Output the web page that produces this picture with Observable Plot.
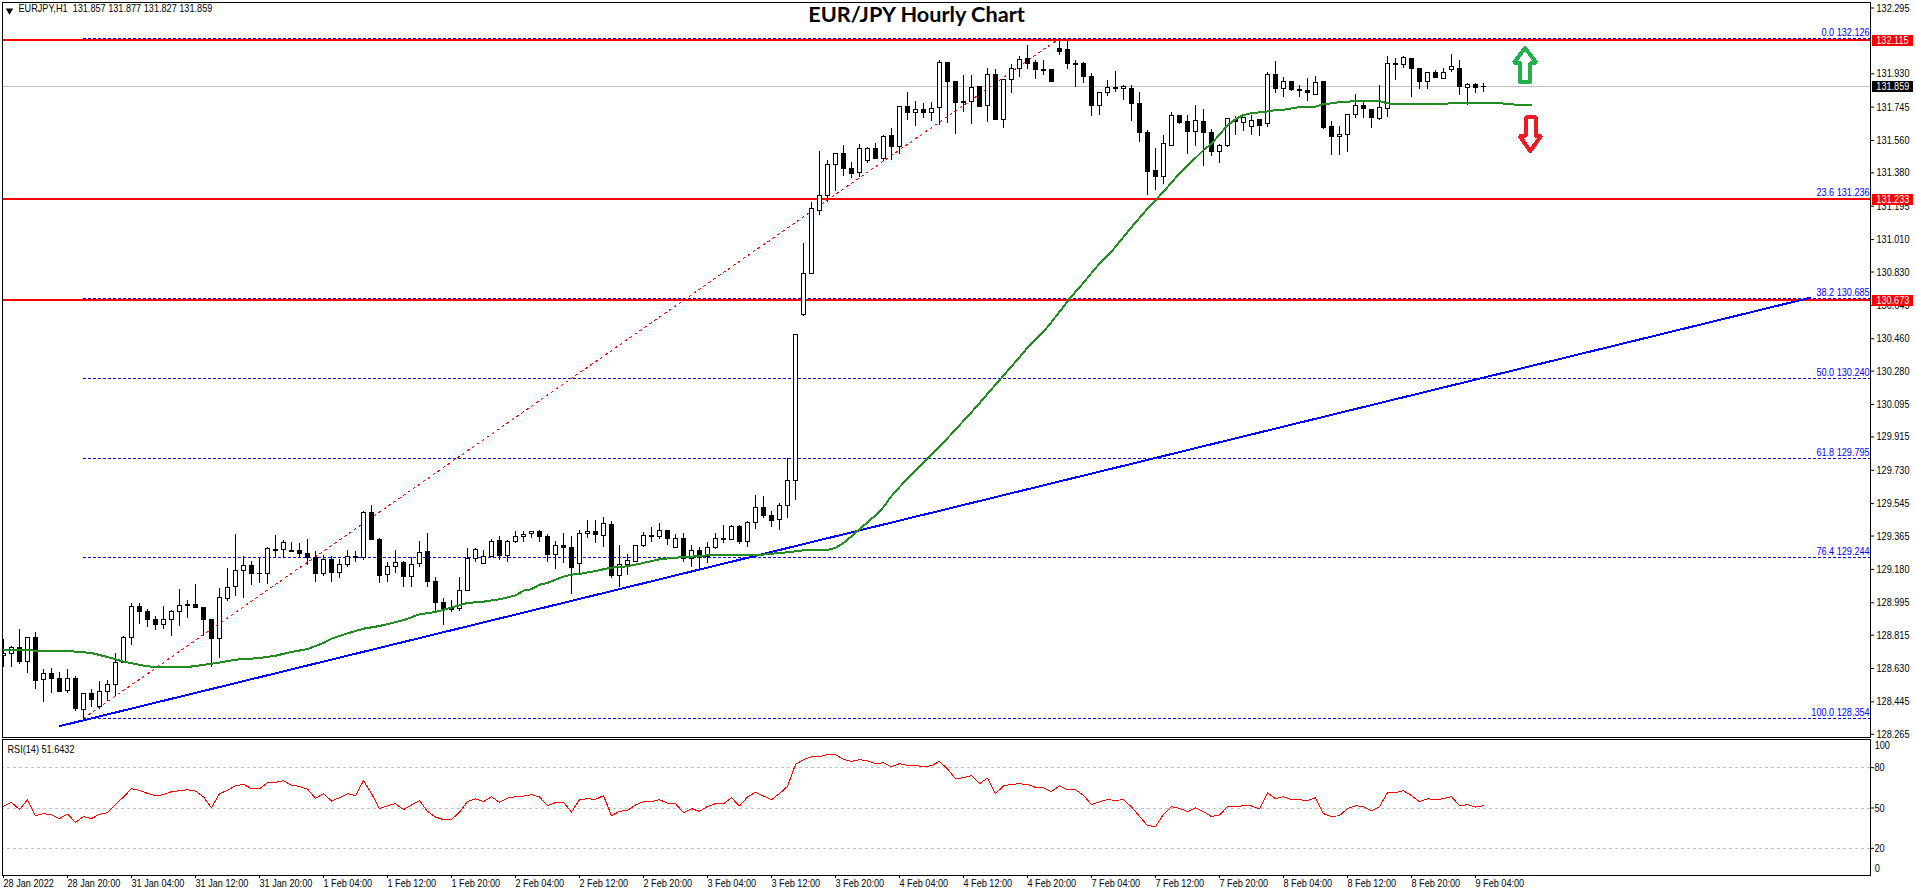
<!DOCTYPE html>
<html><head><meta charset="utf-8">
<script src="https://cdn.jsdelivr.net/npm/d3@7"></script>
<script src="https://cdn.jsdelivr.net/npm/@observablehq/plot@0.6"></script>
<style>html,body{margin:0;padding:0;background:#fff;overflow:hidden}svg{display:block}</style>
</head><body><div id="chart"></div>
<script>
const opens=[128.701,128.712,128.746,128.666,128.801,128.568,128.601,128.574,128.505,128.574,
128.402,128.490,128.418,128.502,128.540,128.663,128.801,128.973,128.946,128.901,
128.872,128.901,128.946,128.984,128.984,128.968,128.901,128.796,129.018,129.084,
129.173,129.201,129.157,129.157,129.290,129.290,129.284,129.284,129.267,129.245,
129.157,129.234,129.162,129.206,129.251,129.245,129.495,129.345,129.151,129.195,
129.217,129.138,129.212,129.279,129.112,128.994,128.960,128.960,129.062,129.240,
129.212,129.249,129.340,129.255,129.334,129.362,129.378,129.389,129.362,129.260,
129.312,129.301,129.212,129.378,129.389,129.367,129.428,129.145,129.205,129.223,
129.312,129.367,129.362,129.395,129.301,129.351,129.240,129.284,129.247,129.301,
129.351,129.343,129.417,129.334,129.440,129.523,129.478,129.456,129.534,129.673,
130.594,130.820,131.171,131.254,131.426,131.487,131.404,131.377,131.444,131.510,
131.458,131.582,131.521,131.743,131.710,131.727,131.710,131.738,131.988,131.882,
131.771,131.771,131.854,131.754,131.926,131.671,131.893,131.954,132.010,131.988,
131.949,131.949,132.065,132.060,131.984,131.982,131.910,131.754,131.821,131.849,
131.843,131.843,131.760,131.599,131.388,131.355,131.532,131.693,131.660,131.605,
131.660,131.599,131.494,131.532,131.671,131.655,131.632,131.671,131.649,131.921,
131.843,131.882,131.838,131.834,131.815,131.882,131.632,131.577,131.593,131.699,
131.749,131.727,131.677,131.732,131.982,131.976,132.010,131.954,131.882,131.932,
131.899,131.949,131.954,131.849,131.865,131.857];
const highs=[128.792,128.753,128.848,128.801,128.829,128.626,128.631,128.609,128.626,128.585,
128.490,128.513,128.557,128.563,128.712,128.807,128.990,128.990,128.957,128.918,
128.975,128.951,129.068,129.008,129.095,128.968,128.901,129.073,129.186,129.375,
129.251,129.223,129.245,129.299,129.367,129.340,129.329,129.323,129.345,129.279,
129.256,129.251,129.234,129.284,129.279,129.501,129.534,129.349,129.217,129.284,
129.223,129.245,129.334,129.378,129.134,129.018,129.007,129.134,129.295,129.295,
129.284,129.345,129.362,129.338,129.391,129.389,129.389,129.395,129.373,129.334,
129.378,129.362,129.395,129.452,129.452,129.467,129.445,129.312,129.262,129.312,
129.384,129.412,129.434,129.395,129.373,129.378,129.312,129.301,129.329,129.378,
129.423,129.423,129.423,129.445,129.589,129.584,129.501,129.545,129.795,130.485,
130.988,131.217,131.499,131.450,131.487,131.534,131.439,131.539,131.521,131.545,
131.588,131.627,131.743,131.827,131.777,131.766,131.771,132.004,131.993,131.882,
131.921,131.921,131.854,131.960,131.954,131.899,131.982,132.026,132.087,132.004,
132.004,131.954,132.126,132.120,132.006,131.993,131.932,131.827,131.893,131.943,
131.865,131.865,131.827,131.616,131.516,131.588,131.716,131.693,131.699,131.754,
131.732,131.621,131.538,131.677,131.693,131.688,131.699,131.671,131.938,131.999,
131.910,131.888,131.865,131.904,131.915,131.882,131.666,131.638,131.703,131.815,
131.771,131.732,131.865,132.026,132.015,132.026,132.010,131.960,131.932,131.949,
131.960,132.037,132.004,131.877,131.877,131.877];
const lows=[128.633,128.633,128.653,128.601,128.516,128.439,128.494,128.502,128.494,128.389,
128.350,128.413,128.405,128.446,128.474,128.657,128.759,128.875,128.860,128.842,
128.849,128.805,128.864,128.909,128.966,128.809,128.638,128.687,129.000,129.031,
129.021,129.088,129.101,129.094,129.245,129.238,129.279,129.245,129.201,129.110,
129.138,129.105,129.132,129.188,129.221,129.230,129.338,129.099,129.105,129.160,
129.082,129.077,129.188,129.077,128.949,128.866,128.940,128.949,129.062,129.216,
129.212,129.245,129.232,129.221,129.321,129.327,129.354,129.332,129.216,129.182,
129.210,129.038,129.155,129.349,129.321,129.304,129.132,129.082,129.144,129.221,
129.299,129.332,129.345,129.310,129.299,129.216,129.188,129.182,129.210,129.288,
129.321,129.338,129.316,129.304,129.401,129.462,129.410,129.395,129.465,129.565,
130.581,130.814,131.142,131.214,131.278,131.362,131.347,131.354,131.433,131.455,
131.442,131.447,131.481,131.673,131.636,131.680,131.664,131.642,131.653,131.592,
131.717,131.647,131.741,131.658,131.669,131.625,131.819,131.912,131.951,131.901,
131.923,131.880,132.034,131.951,131.852,131.877,131.695,131.701,131.803,131.827,
131.784,131.664,131.547,131.253,131.285,131.318,131.531,131.649,131.481,131.525,
131.414,131.470,131.431,131.519,131.586,131.612,131.586,131.581,131.630,131.819,
131.797,131.832,131.797,131.777,131.808,131.619,131.475,131.475,131.495,131.680,
131.680,131.625,131.671,131.686,131.891,131.958,131.797,131.841,131.841,131.902,
131.899,131.936,131.808,131.756,131.819,131.827];
const closes=[128.712,128.744,128.666,128.801,128.563,128.601,128.574,128.502,128.574,128.407,
128.490,128.457,128.502,128.540,128.663,128.801,128.973,128.946,128.901,128.872,
128.901,128.946,128.979,128.979,128.966,128.901,128.796,129.023,129.079,129.173,
129.199,129.155,129.153,129.292,129.282,129.329,129.279,129.266,129.245,129.157,
129.234,129.160,129.206,129.249,129.245,129.495,129.343,129.144,129.195,129.216,
129.138,129.206,129.273,129.112,128.994,128.960,128.955,129.062,129.240,129.290,
129.251,129.334,129.253,129.334,129.360,129.373,129.388,129.360,129.260,129.312,
129.299,129.188,129.378,129.389,129.371,129.434,129.144,129.206,129.229,129.312,
129.367,129.362,129.395,129.351,129.351,129.240,129.284,129.245,129.301,129.351,
129.343,129.417,129.334,129.440,129.523,129.478,129.451,129.534,129.673,130.478,
130.821,131.177,131.254,131.426,131.487,131.402,131.375,131.515,131.510,131.458,
131.577,131.521,131.743,131.710,131.727,131.710,131.732,131.988,131.882,131.766,
131.766,131.849,131.747,131.926,131.671,131.893,131.954,132.004,131.986,131.949,
131.945,131.882,132.052,131.982,131.980,131.910,131.754,131.821,131.849,131.843,
131.854,131.760,131.599,131.386,131.355,131.538,131.693,131.655,131.605,131.666,
131.599,131.497,131.532,131.677,131.660,131.682,131.666,131.642,131.921,131.843,
131.882,131.838,131.832,131.821,131.877,131.627,131.577,131.593,131.703,131.754,
131.732,131.682,131.738,131.982,131.976,132.015,131.954,131.882,131.932,131.908,
131.932,131.965,131.858,131.865,131.849,131.859];
const rsiValues=[51.2,54.2,48.8,56.2,44.3,45.8,45.0,42.1,45.5,39.3,43.6,42.1,45.3,46.5,52.7,58.2,64.4,63.1,60.9,59.2,
59.9,62.2,62.9,63.6,62.6,58.2,50.2,60.7,63.1,66.6,67.6,64.4,64.4,68.8,69.1,70.3,66.9,66.1,64.1,57.2,
60.7,55.2,57.7,60.7,59.2,70.3,60.7,49.5,51.7,53.2,48.8,52.2,55.5,47.5,43.3,41.3,41.3,47.0,54.7,56.9,
54.7,58.4,54.2,57.4,58.4,58.9,59.9,58.2,51.7,54.0,54.2,47.0,56.2,56.9,56.4,59.2,44.3,47.5,48.3,52.2,
54.7,54.7,56.2,53.5,53.2,46.5,49.5,47.5,51.2,53.2,53.2,57.7,51.5,58.2,61.7,58.9,56.2,60.7,66.1,82.5,
86.0,88.2,88.2,89.7,89.7,86.2,84.7,86.0,85.2,83.0,83.7,80.8,83.0,81.7,81.7,80.8,81.5,84.7,79.0,71.8,
72.6,74.1,68.1,72.3,60.7,66.4,67.6,68.1,67.4,65.4,65.1,62.2,66.6,63.6,63.6,59.4,52.5,54.7,56.2,55.7,
56.2,50.7,43.8,36.9,36.1,45.3,51.0,49.8,47.3,50.2,47.3,43.6,44.8,51.0,51.0,51.7,51.5,49.3,61.4,56.9,
58.4,56.2,56.2,55.5,57.7,45.8,43.6,44.3,49.5,51.7,51.0,48.0,51.0,61.4,61.4,62.9,59.2,54.7,56.9,56.2,
56.9,58.4,51.7,52.5,50.7,51.64];
const maBars=[0,7,9,11,13,15,18,20,23,27,29,32,34,36,38,40,41,43,45,47,50,52,54,56,58,60,62,64,65,66,67,68,70,71,72,74,76,78,80,82,84,86,88,90,94,96,98,100,103,104,105,106,107,108,109,110,111,112,113,114,115,116,
117,118,119,120,121,122,123,124,125,126,127,128,129,130,131,132,133,134,135,136,137,138,139,140,141,142,143,144,145,146,147,148,149,
150,151,152,153,154,155,156,157,158,159,160,162,164,165,166,167,169,172,173,174,180,181,187,188,190,191];
const maValues=[128.731,128.729,128.724,128.716,128.694,128.668,128.642,128.637,128.638,128.663,128.679,128.688,128.701,128.722,128.738,128.772,128.796,128.825,128.851,128.866,128.898,128.931,128.944,128.968,128.994,129.001,129.014,129.036,129.062,129.070,129.095,129.105,129.140,129.151,129.155,129.171,129.190,129.197,129.216,129.236,129.245,129.251,129.258,129.260,129.258,129.267,129.275,129.286,129.288,129.299,129.327,129.364,129.403,129.441,129.480,129.526,129.587,129.637,129.684,129.730,129.773,129.817,
129.861,129.908,129.956,130.004,130.052,130.102,130.154,130.205,130.255,130.307,130.357,130.411,130.455,130.498,130.553,130.609,130.668,130.720,130.770,130.825,130.877,130.920,130.970,131.025,131.079,131.130,131.182,131.229,131.275,131.327,131.377,131.423,131.463,
131.507,131.542,131.593,131.643,131.678,131.701,131.712,131.716,131.721,131.729,131.730,131.745,131.747,131.762,131.766,131.773,131.778,131.778,131.766,131.762,131.762,131.767,131.767,131.762,131.756,131.756];
const priceTicks=[132.295,131.930,131.745,131.560,131.380,131.195,131.010,130.830,130.645,130.460,130.280,130.095,129.915,129.730,129.545,129.365,129.180,128.995,128.815,128.630,128.445,128.265];
const timeLabels=["28 Jan 2022","28 Jan 20:00","31 Jan 04:00","31 Jan 12:00","31 Jan 20:00","1 Feb 04:00","1 Feb 12:00","1 Feb 20:00","2 Feb 04:00","2 Feb 12:00","2 Feb 20:00","3 Feb 04:00","3 Feb 12:00","3 Feb 20:00","4 Feb 04:00","4 Feb 12:00","4 Feb 20:00","7 Feb 04:00","7 Feb 12:00","7 Feb 20:00","8 Feb 04:00","8 Feb 12:00","8 Feb 20:00","9 Feb 04:00"];
const timeTickBars=timeLabels.map((_,k)=>k*8);
const fibRatios=["0.0","23.6","38.2","50.0","61.8","76.4","100.0"];
const fibPrices=[132.126,131.236,130.685,130.240,129.795,129.244,128.354];
const redLevels=[132.115,131.233,130.673];
const lastPrice=131.859;
const trendBars=[7,225.8], trendPrices=[128.31,130.687];
const swingBars=[10,132], swingPrices=[128.354,132.126];
const upArrowBars=[190.2,191.6,190.84,190.84,189.54,189.54,188.8,190.2];
const upArrowPrices=[132.073,131.991,131.991,131.884,131.884,131.991,131.991,132.073];
const downArrowBars=[190.85,192.2,191.5,191.5,190.3,190.3,189.5,190.85];
const downArrowPrices=[131.501,131.586,131.586,131.688,131.688,131.586,131.586,131.501];
const rsiLevels=[80,50,20], rsiEnds=[100,0];

const candles=opens.map((o,i)=>({i,o,h:highs[i],l:lows[i],c:closes[i]}));
const ma=maBars.map((b,k)=>({b,v:maValues[k]}));
const trend=trendBars.map((b,k)=>({b,v:trendPrices[k]}));
const swing=swingBars.map((b,k)=>({b,v:swingPrices[k]}));
const upArrow=upArrowBars.map((b,k)=>({b,v:upArrowPrices[k]}));
const downArrow=downArrowBars.map((b,k)=>({b,v:downArrowPrices[k]}));
const fibs=fibRatios.map((r,k)=>({r,p:fibPrices[k],t:r+" "+fibPrices[k].toFixed(3)}));
const rsi=rsiValues.map((v,i)=>({i,v}));

const TITLE="EUR/JPY Hourly Chart";
const FONT='"Liberation Sans",sans-serif';
const style={fontFamily:FONT,fontSize:"11px",background:"#fff",color:"#000",overflow:"visible"};
const xScale={domain:[0,239],range:[3,1915]};
const frameRightBar=233.4;
const crisp={shapeRendering:"crispEdges"};

const price=Plot.plot({
  width:1916,height:738,marginLeft:2,marginTop:2,marginRight:46,marginBottom:1,style,
  x:{...xScale,axis:null},
  y:{domain:[128.265,132.295],range:[733.8,7.5],axis:null},
  marks:[
    Plot.ruleY([lastPrice],{x1:0,x2:frameRightBar,stroke:"#c0c0c0",strokeWidth:1,...crisp,clip:true}),
    Plot.ruleY(fibs,{y:"p",x1:10,x2:frameRightBar,stroke:"#0000ff",strokeWidth:1,strokeDasharray:"3 2",...crisp}),
    Plot.ruleY(redLevels,{x1:-1,x2:frameRightBar,stroke:"#ff0000",strokeWidth:2,...crisp,clip:true}),
    Plot.line(swing,{x:"b",y:"v",stroke:"#ff0000",strokeWidth:1,strokeDasharray:"2 4",...crisp}),
    Plot.ruleX(candles,{x:"i",y1:"l",y2:"h",stroke:"#000",strokeWidth:1,...crisp,clip:true}),
    Plot.rect(candles,{filter:d=>d.c>=d.o,x1:d=>d.i-.25,x2:d=>d.i+.25,y1:"o",y2:"c",fill:"#fff",stroke:"#000",strokeWidth:1,...crisp,clip:true}),
    Plot.rect(candles,{filter:d=>d.c<d.o,x1:d=>d.i-.25,x2:d=>d.i+.25,y1:"o",y2:"c",fill:"#000",stroke:"#000",strokeWidth:1,...crisp,clip:true}),
    Plot.line(trend,{x:"b",y:"v",stroke:"#0000ff",strokeWidth:2,...crisp}),
    Plot.line(ma,{x:"b",y:"v",stroke:"#228b22",strokeWidth:2,...crisp}),
    Plot.line(upArrow,{x:"b",y:"v",stroke:"#22b14c",strokeWidth:4,strokeLinejoin:"miter",...crisp}),
    Plot.line(downArrow,{x:"b",y:"v",stroke:"#ed1c24",strokeWidth:4,strokeLinejoin:"miter",...crisp}),
    Plot.text(fibs,{y:"p",x:frameRightBar,text:"t",textAnchor:"end",dx:-1,dy:-6,fill:"#0000ff",fontSize:11}),
    Plot.axisY({anchor:"right",ticks:priceTicks,tickFormat:".3f",tickSize:3,tickPadding:3,label:null,fontSize:11}),
    Plot.ruleY(redLevels,{x1:233.6,x2:238.7,stroke:"#ff0000",strokeWidth:11,...crisp}),
    Plot.text(redLevels,{y:d=>d,x:234.1,text:d=>d.toFixed(3),textAnchor:"start",fill:"#fff",fontSize:11}),
    Plot.ruleY([lastPrice],{x1:233.6,x2:238.7,stroke:"#000",strokeWidth:11,...crisp}),
    Plot.text([lastPrice],{y:d=>d,x:234.1,text:d=>d.toFixed(3),textAnchor:"start",fill:"#fff",fontSize:11}),
    Plot.text([TITLE],{frameAnchor:"top",dx:-20,dy:4,fontFamily:"Lato",fontWeight:"bold",fontSize:21.7,fill:"#000"}),
    Plot.text(["EURJPY,H1  131.857 131.877 131.827 131.859"],{frameAnchor:"top-left",dx:16,dy:2,fill:"#000",fontSize:11,style:"white-space:pre"}),
    Plot.dot(["▾"],{frameAnchor:"top-left",dx:7,dy:8,symbol:"triangle2",rotate:180,r:3.5,fill:"#000",stroke:"none"}),
    Plot.frame({stroke:"#000",strokeWidth:1})
  ]
});

const rsiPlot=Plot.plot({
  width:1916,height:158,marginLeft:2,marginTop:1,marginRight:46,marginBottom:21,style,
  x:{...xScale,axis:null},
  y:{domain:[20,80],range:[109.8,29.2],axis:null},
  marks:[
    Plot.ruleY(rsiLevels,{x1:-1,x2:frameRightBar,stroke:"#c0c0c0",strokeWidth:1,strokeDasharray:"3 3",...crisp,clip:true}),
    Plot.line(rsi,{x:"i",y:"v",stroke:"#ff0000",strokeWidth:1,...crisp}),
    Plot.axisY({anchor:"right",ticks:rsiLevels,tickFormat:d=>d,tickSize:3,tickPadding:1,label:null,fontSize:11}),
    Plot.text(rsiEnds,{filter:d=>d===100,y:d=>d,x:frameRightBar,text:d=>d,textAnchor:"start",fill:"#000",fontSize:11,dx:4,dy:5}),
    Plot.text(rsiEnds,{filter:d=>d===0,y:d=>d,x:frameRightBar,text:d=>d,textAnchor:"start",fill:"#000",fontSize:11,dx:4,dy:-7}),
    Plot.axisX({anchor:"bottom",ticks:timeTickBars,tickFormat:d=>timeLabels[d/8],tickSize:3,tickPadding:1,textAnchor:"start",label:null,fontSize:11}),
    Plot.text(["RSI(14) 51.6432"],{frameAnchor:"top-left",dx:5,dy:6,fill:"#000",fontSize:11}),
    Plot.frame({stroke:"#000",strokeWidth:1})
  ]
});
const root=document.getElementById("chart");
root.append(price,rsiPlot);
// The reference's interface font is narrower than any installed one: condense the small labels.
root.querySelectorAll("text").forEach(t=>{
  if(t.textContent===TITLE) return;
  t.setAttribute("textLength",(t.getComputedTextLength()*0.83).toFixed(1));
  t.setAttribute("lengthAdjust","spacingAndGlyphs");
});
</script></body></html>
